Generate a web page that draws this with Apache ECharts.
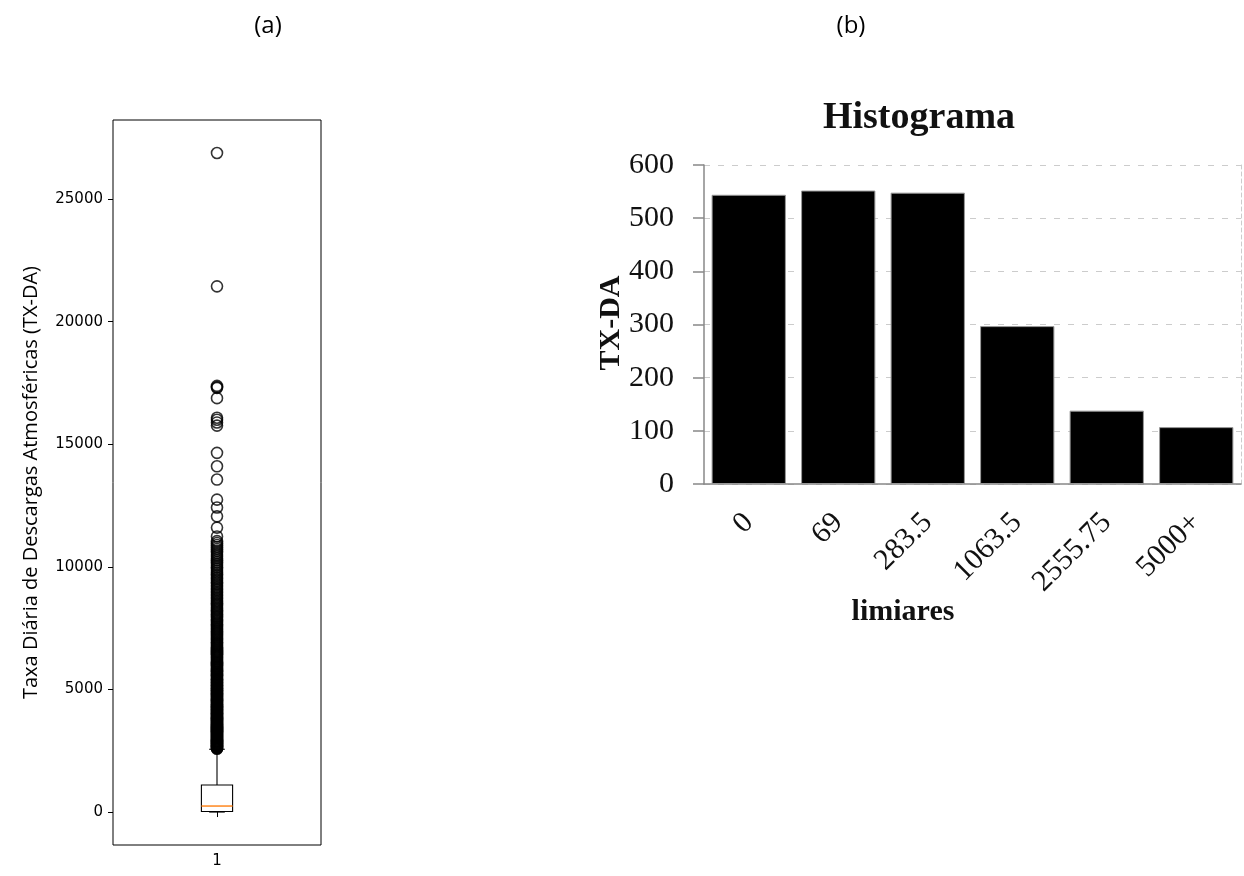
<!DOCTYPE html>
<html>
<head>
<meta charset="utf-8">
<script src="https://cdn.jsdelivr.net/npm/echarts@6/dist/echarts.min.js"></script>
<style>
html,body{margin:0;padding:0;background:#fff;}
#chart{width:1244px;height:876px;}
</style>
</head>
<body>
<div id="chart"></div>
<script>
// ---- Data: (a) boxplot ----
const boxCategories = ['1'];
// [categoryIndex, whiskerLow, Q1, median, Q3, whiskerHigh]
const boxStats = [[0, 0, 20, 245, 1100, 2560]];
const outliersSparse = [
  26880, 21440, 17380, 17330, 17300, 16880, 16080, 16000, 15890, 15760,
  14650, 14100, 13560, 12740, 12420, 12060, 11600, 11240
];
const outliersDense = [
  11050, 10890, 10730, 10570, 10420, 10270, 10120, 9980, 9840, 9700,
  9560, 9430, 9300, 9170, 9050, 8920, 8800, 8680, 8560, 8450,
  8330, 8220, 8110, 8000, 7900, 7790, 7690, 7590, 7490, 7400,
  7300, 7210, 7120, 7040, 6950, 6860, 6780, 6700, 6610, 6530,
  6450, 6370, 6300, 6220, 6140, 6070, 6000, 5920, 5850, 5780,
  5710, 5640, 5580, 5510, 5440, 5380, 5320, 5250, 5190, 5130,
  5070, 5010, 4950, 4900, 4840, 4780, 4730, 4670, 4620, 4560,
  4510, 4460, 4400, 4350, 4300, 4250, 4200, 4150, 4100, 4050,
  4010, 3960, 3910, 3870, 3820, 3780, 3730, 3690, 3640, 3600,
  3560, 3510, 3470, 3430, 3390, 3350, 3310, 3270, 3230, 3190,
  3150, 3110, 3070, 3030, 2990, 2950, 2910, 2880, 2840, 2800,
  2760, 2720, 2690, 2650, 2610, 2580
];
const outliersDense2 = [
  10970, 10810, 10650, 10495, 10345, 10195, 10050, 9910, 9770, 9630,
  9495, 9365, 9235, 9110, 8985, 8860, 8740, 8620, 8505, 8390,
  8275, 8165, 8055, 7950, 7845, 7740, 7640, 7540, 7445, 7350,
  7255, 7165, 7080, 6995, 6905, 6820, 6740, 6655, 6570, 6490,
  6410, 6335, 6260, 6180, 6105, 6035, 5960, 5885, 5815, 5745,
  5675, 5610, 5545, 5475, 5410, 5350, 5285, 5220, 5160, 5100,
  5040, 4980, 4925, 4870, 4810, 4755, 4700, 4645, 4590, 4535,
  4485, 4430, 4375, 4325, 4275, 4225, 4175, 4125, 4075, 4030,
  3985, 3935, 3890, 3845, 3800, 3755, 3710, 3665, 3620, 3580,
  3535, 3490, 3450, 3410, 3370, 3330, 3290, 3250, 3210, 3170,
  3130, 3090, 3050, 3010, 2970, 2930, 2895, 2860, 2820, 2780,
  2740, 2705, 2670, 2630, 2595
];
const boxTicks = [0, 5000, 10000, 15000, 20000, 25000];
const boxYMin = -1344;
const boxYMax = 28224;

// ---- Data: (b) histogram ----
const histCategories = ['0', '69', '283.5', '1063.5', '2555.75', '5000+'];
const histValues = [544, 552, 548, 297, 138, 107];

const chart = echarts.init(document.getElementById('chart'));
const serif = '"Liberation Serif", "Times New Roman", serif';

function renderBox(params, api) {
  const idx = api.value(0);
  const xc = api.coord([idx, 0])[0];
  const band = api.size([1, 0])[0];
  const half = band * 0.075;
  const cap = half / 2;
  const yLow = api.coord([idx, api.value(1)])[1];
  const yQ1 = api.coord([idx, api.value(2)])[1];
  const yMed = api.coord([idx, api.value(3)])[1];
  const yQ3 = api.coord([idx, api.value(4)])[1];
  const yHigh = api.coord([idx, api.value(5)])[1];
  const black = { stroke: '#000', lineWidth: 1.1, fill: null };
  return {
    type: 'group',
    children: [
      { type: 'line', shape: { x1: xc, y1: yQ1, x2: xc, y2: yLow }, style: black },
      { type: 'line', shape: { x1: xc, y1: yQ3, x2: xc, y2: yHigh }, style: black },
      { type: 'line', shape: { x1: xc - cap, y1: yLow, x2: xc + cap, y2: yLow }, style: black },
      { type: 'line', shape: { x1: xc - cap, y1: yHigh, x2: xc + cap, y2: yHigh }, style: black },
      { type: 'rect', shape: { x: xc - half, y: yQ3, width: 2 * half, height: yQ1 - yQ3 }, style: { stroke: '#000', lineWidth: 1.1, fill: 'rgba(0,0,0,0)' } },
      { type: 'line', shape: { x1: xc - half, y1: yMed, x2: xc + half, y2: yMed }, style: { stroke: '#ff7f0e', lineWidth: 1.4 } }
    ]
  };
}

const option = {
  backgroundColor: '#fff',
  animation: false,
  grid: [
    { left: 113, top: 120, width: 208, height: 725, show: true, borderColor: '#000', borderWidth: 1, backgroundColor: 'rgba(0,0,0,0)' },
    { left: 704, top: 165, width: 537, height: 319 }
  ],
  xAxis: [
    {
      gridIndex: 0, type: 'category', data: boxCategories, boundaryGap: true,
      axisLine: { show: false },
      axisTick: { show: true, alignWithLabel: true, length: 5, lineStyle: { color: '#000' } },
      axisLabel: { color: '#000', fontFamily: 'DejaVu Sans', fontSize: 15, margin: 9 },
      splitLine: { show: false }
    },
    {
      gridIndex: 1, type: 'category', data: histCategories, boundaryGap: true,
      axisLine: { show: true, lineStyle: { color: '#888', width: 1.5 } },
      axisTick: { show: false },
      axisLabel: { color: '#111', fontFamily: serif, fontSize: 30, rotate: 45, margin: 34 },
      splitLine: { show: false }
    }
  ],
  yAxis: [
    {
      gridIndex: 0, type: 'value', min: boxYMin, max: boxYMax,
      axisLine: { show: false },
      axisTick: { show: true, length: 5, customValues: boxTicks, lineStyle: { color: '#000' } },
      axisLabel: { color: '#000', fontFamily: 'DejaVu Sans', fontSize: 15, margin: 10, customValues: boxTicks, formatter: v => String(v) },
      splitLine: { show: false },
      name: 'Taxa Diária de Descargas Atmosféricas (TX-DA)',
      nameLocation: 'middle', nameRotate: 90, nameGap: 72,
      nameTextStyle: { color: '#000', fontFamily: 'Open Sans', fontSize: 20 }
    },
    {
      gridIndex: 1, type: 'value', min: 0, max: 600, interval: 100,
      axisLine: { show: true, lineStyle: { color: '#888', width: 1.5 } },
      axisTick: { show: true, length: 11, lineStyle: { color: '#888', width: 1.5 } },
      axisLabel: { color: '#111', fontFamily: serif, fontSize: 30, margin: 30 },
      splitLine: { show: true, lineStyle: { color: '#ccc', type: [6, 8], width: 1 } }
    },
    {
      gridIndex: 1, type: 'value', min: 0, max: 600, interval: 100, position: 'right',
      axisLine: { show: true, lineStyle: { color: '#ccc', type: [4, 3], width: 1 } },
      axisTick: { show: false }, axisLabel: { show: false }, splitLine: { show: false }
    }
  ],
  graphic: [
    { type: 'text', x: 268, y: 26, style: { text: '(a)', font: '24px "Open Sans"', fill: '#000', textAlign: 'center', textVerticalAlign: 'middle' } },
    { type: 'text', x: 851, y: 26, style: { text: '(b)', font: '24px "Open Sans"', fill: '#000', textAlign: 'center', textVerticalAlign: 'middle' } },
    { type: 'text', x: 919, y: 118, style: { text: 'Histograma', font: 'bold 38px ' + serif, fill: '#111', textAlign: 'center', textVerticalAlign: 'middle' } },
    { type: 'text', x: 903, y: 612, style: { text: 'limiares', font: 'bold 30px ' + serif, fill: '#111', textAlign: 'center', textVerticalAlign: 'middle' } },
    { type: 'text', x: 611, y: 323, rotation: Math.PI / 2, style: { text: 'TX-DA', font: 'bold 30px ' + serif, fill: '#111', textAlign: 'center', textVerticalAlign: 'middle' } }
  ],
  series: [
    {
      type: 'custom', xAxisIndex: 0, yAxisIndex: 0,
      renderItem: renderBox,
      data: boxStats,
      z: 2
    },
    {
      type: 'scatter', xAxisIndex: 0, yAxisIndex: 0,
      data: outliersSparse.concat(outliersDense, outliersDense2).map(v => [0, v]),
      symbol: 'circle', symbolSize: 11,
      itemStyle: { color: 'rgba(0,0,0,0)', borderColor: '#000', borderWidth: 1.6 },
      z: 3
    },
    {
      type: 'bar', xAxisIndex: 1, yAxisIndex: 1,
      data: histValues,
      barCategoryGap: '17%',
      itemStyle: { color: '#000', borderColor: '#999', borderWidth: 1 }
    }
  ]
};
chart.setOption(option);
</script>
</body>
</html>
